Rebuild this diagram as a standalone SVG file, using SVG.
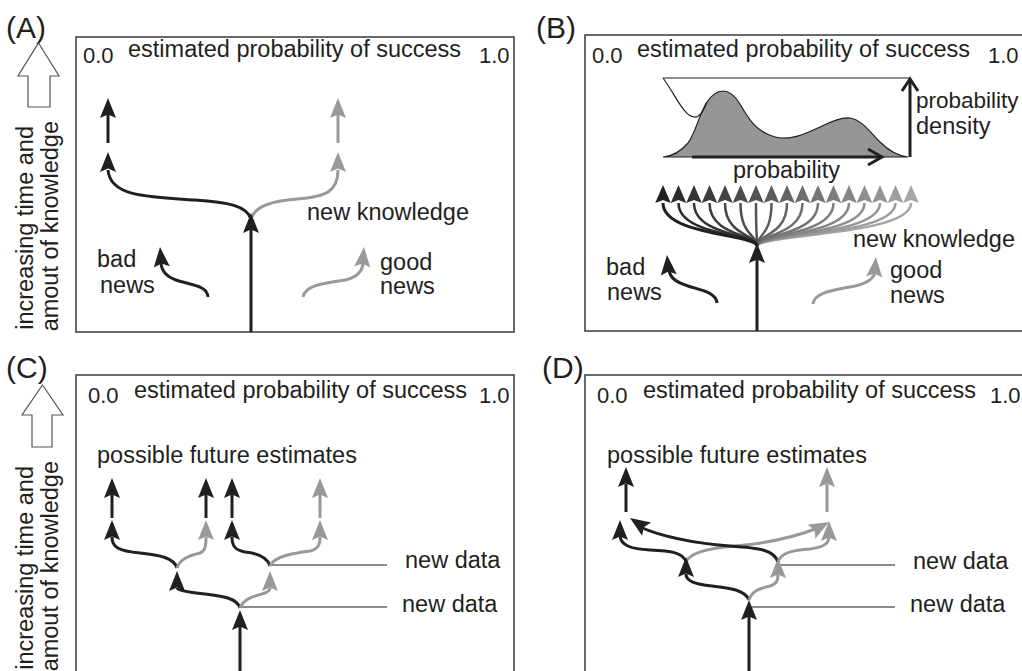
<svg xmlns="http://www.w3.org/2000/svg" xmlns:xlink="http://www.w3.org/1999/xlink" width="1022" height="671" viewBox="0 0 1022 671">
<style>
.t{font-family:"Liberation Sans",Arial,sans-serif;font-size:23.5px;fill:#231f20}
.n{font-family:"Liberation Sans",Arial,sans-serif;font-size:22px;fill:#231f20}
.p{font-family:"Liberation Sans",Arial,sans-serif;font-size:30px;fill:#231f20}
.box{fill:none;stroke:#3a3a3a;stroke-width:1.5}
.bk{fill:none;stroke:#231f20;stroke-width:3}
.gy{fill:none;stroke:#98999b;stroke-width:3}
.dl{fill:none;stroke:#8a8a8a;stroke-width:2}
.thin{fill:none;stroke:#231f20;stroke-width:1.2}
.hb{fill:#231f20}
.hg{fill:#98999b}
.big{fill:#fff;stroke:#555;stroke-width:1.2}
</style>
<defs>
<path id="ah" d="M0,0 L8,20 L0,16.5 L-8,20 Z"/>
<path id="ahs" d="M0,0 L7.8,18 L0,15 L-7.8,18 Z"/>
</defs>
<rect width="1022" height="671" fill="#fff"/>

<g id="panelA">
<text class="p" x="6" y="38">(A)</text>
<polygon class="big" points="38.5,43 59,76 50,76 50,107 28,107 28,76 18,76"/>
<text class="t" transform="translate(33,126) rotate(-90)" text-anchor="end">increasing time and</text>
<text class="t" transform="translate(58,121) rotate(-90)" text-anchor="end">amout of knowledge</text>
<rect class="box" x="76" y="37" width="438" height="295"/>
<text class="n" x="83" y="63">0.0</text>
<text class="t" x="128" y="57">estimated probability of success</text>
<text class="n" x="479" y="63">1.0</text>
<text class="t" x="307" y="220">new knowledge</text>
<text class="t" x="97" y="267">bad</text>
<text class="t" x="100" y="293">news</text>
<text class="t" x="380" y="270">good</text>
<text class="t" x="380" y="294">news</text>
</g>

<g id="panelB">
<text class="p" x="536" y="38">(B)</text>
<rect class="box" x="585" y="35" width="460" height="296"/>
<text class="n" x="592" y="63">0.0</text>
<text class="t" x="637" y="57">estimated probability of success</text>
<text class="n" x="988" y="63">1.0</text>
<path d="M663,157 C675,156 682,150 688,143 C696,132 700,112 707,102 C713,93 718,91 723,91 C730,91 735,96 740,104 C748,118 756,132 775,137 C790,141 805,134 820,127 C832,121 842,117 850,118 C862,120 870,132 880,142 C890,152 898,156 908,157 Z" fill="#959595" stroke="#231f20" stroke-width="1.2"/>
<path class="thin" d="M663,78 L910,78"/>
<path class="thin" d="M663,78 C676,96 684,116 694,117 C700,118 704,110 707,102"/>
<path class="bk" d="M692,157 L881,157"/>
<polyline class="bk" points="868,149 882,157 868,165"/>
<path class="bk" d="M910,157 L910,80"/>
<polyline class="bk" points="902,91 910,79 918,91"/>
<text class="t" x="733" y="178">probability</text>
<text class="t" x="916" y="108" style="font-size:22.5px">probability</text>
<text class="t" x="916" y="134">density</text>
<text class="t" x="853" y="247">new knowledge</text>
<text class="t" x="606" y="275">bad</text>
<text class="t" x="607" y="300">news</text>
<text class="t" x="890" y="278">good</text>
<text class="t" x="890" y="303">news</text>
</g>

<g id="panelC">
<text class="p" x="6" y="378">(C)</text>
<polygon class="big" points="42.5,385 63,415 52,415 52,447 32,447 32,415 22,415"/>
<text class="t" transform="translate(33,466) rotate(-90)" text-anchor="end">increasing time and</text>
<text class="t" transform="translate(58,461) rotate(-90)" text-anchor="end">amout of knowledge</text>
<rect class="box" x="76" y="375" width="438" height="320"/>
<text class="n" x="88" y="403">0.0</text>
<text class="t" x="134" y="398">estimated probability of success</text>
<text class="n" x="479" y="403">1.0</text>
<text class="t" x="97" y="463">possible future estimates</text>
<text class="t" x="405" y="568">new data</text>
<text class="t" x="402" y="612">new data</text>
</g>

<g id="panelD">
<text class="p" x="542" y="378">(D)</text>
<rect class="box" x="585" y="375" width="460" height="320"/>
<text class="n" x="597" y="403">0.0</text>
<text class="t" x="643" y="398">estimated probability of success</text>
<text class="n" x="990" y="403">1.0</text>
<text class="t" x="607" y="463">possible future estimates</text>
<text class="t" x="913" y="569">new data</text>
<text class="t" x="910" y="612">new data</text>
</g>

<g id="connectors">
<!-- A -->
<path class="bk" d="M251,332 L251,228"/>
<path class="bk" d="M251,219 C247,206 228,202 195,200 C145,197 110,196 108,170"/>
<path class="bk" d="M108,143 L108,112"/>
<path class="gy" d="M251,219 C255,206 272,201 297,199 C325,197 338,192 338,170"/>
<path class="gy" d="M338,143 L338,112"/>
<path class="bk" d="M208,297 C207,285 190,285 176,280 C165,276 161,270 161,262"/>
<path class="gy" d="M303,297 C305,285 325,283 345,280 C358,277 363,270 363,262"/>
<use href="#ah" class="hb" transform="translate(251,213)"/>
<use href="#ah" class="hb" transform="translate(108,152)"/>
<use href="#ah" class="hb" transform="translate(108,98)"/>
<use href="#ah" class="hg" transform="translate(338,152)"/>
<use href="#ah" class="hg" transform="translate(338,98)"/>
<use href="#ah" class="hb" transform="translate(160,247) rotate(-5)"/>
<use href="#ah" class="hg" transform="translate(364,247) rotate(5)"/>

<!-- B fan -->
<path class="bk" d="M757,331 L757,258"/>
<g fill="none" stroke-width="2.5">
<path stroke="#a6a6a6" d="M757,246 C757,234 911,236 911,203"/>
<path stroke="#9e9e9e" d="M757,246 C757,234 895.5,236 895.5,203"/>
<path stroke="#969696" d="M757,246 C757,234 880,236 880,203"/>
<path stroke="#8e8e8e" d="M757,246 C757,234 864.5,236 864.5,203"/>
<path stroke="#858585" d="M757,246 C757,234 849,236 849,203"/>
<path stroke="#7d7d7d" d="M757,246 C757,234 833.5,236 833.5,203"/>
<path stroke="#757575" d="M757,246 C757,234 818,236 818,203"/>
<path stroke="#6d6d6d" d="M757,246 C757,234 802.5,236 802.5,203"/>
<path stroke="#656565" d="M757,246 C757,234 787,236 787,203"/>
<path stroke="#5c5c5c" d="M757,246 C757,234 771.5,236 771.5,203"/>
<path stroke="#545454" d="M757,246 C757,234 756,236 756,203"/>
<path stroke="#4c4c4c" d="M757,246 C757,234 740.5,236 740.5,203"/>
<path stroke="#444444" d="M757,246 C757,234 725,236 725,203"/>
<path stroke="#3c3c3c" d="M757,246 C757,234 709.5,236 709.5,203"/>
<path stroke="#333333" d="M757,246 C757,234 694,236 694,203"/>
<path stroke="#2b2b2b" d="M757,246 C757,234 678.5,236 678.5,203"/>
<path stroke="#231f20" stroke-width="3" d="M757,246 C757,234 663,236 663,203"/>
</g>
<use href="#ahs" fill="#a6a6a6" transform="translate(911,185)"/>
<use href="#ahs" fill="#9e9e9e" transform="translate(895.5,185)"/>
<use href="#ahs" fill="#969696" transform="translate(880,185)"/>
<use href="#ahs" fill="#8e8e8e" transform="translate(864.5,185)"/>
<use href="#ahs" fill="#858585" transform="translate(849,185)"/>
<use href="#ahs" fill="#7d7d7d" transform="translate(833.5,185)"/>
<use href="#ahs" fill="#757575" transform="translate(818,185)"/>
<use href="#ahs" fill="#6d6d6d" transform="translate(802.5,185)"/>
<use href="#ahs" fill="#656565" transform="translate(787,185)"/>
<use href="#ahs" fill="#5c5c5c" transform="translate(771.5,185)"/>
<use href="#ahs" fill="#545454" transform="translate(756,185)"/>
<use href="#ahs" fill="#4c4c4c" transform="translate(740.5,185)"/>
<use href="#ahs" fill="#444444" transform="translate(725,185)"/>
<use href="#ahs" fill="#3c3c3c" transform="translate(709.5,185)"/>
<use href="#ahs" fill="#333333" transform="translate(694,185)"/>
<use href="#ahs" fill="#2b2b2b" transform="translate(678.5,185)"/>
<use href="#ahs" fill="#231f20" transform="translate(663,185)"/>
<use href="#ah" class="hb" transform="translate(757,243)"/>
<path class="bk" d="M717,303 C716,292 700,290 688,286 C676,282 670,278 669,270"/>
<path class="gy" d="M813,304 C814,292 835,290 855,286 C868,283 874,278 875,272"/>
<use href="#ah" class="hb" transform="translate(667,255) rotate(-5)"/>
<use href="#ah" class="hg" transform="translate(876,257) rotate(5)"/>

<!-- C -->
<path class="dl" d="M240,607 L387,607"/>
<path class="dl" d="M270,565 L387,565"/>
<path class="bk" d="M240,671 L240,624"/>
<path class="bk" d="M240,608 C237,598 222,596 205,594 C185,592 177,590 177,588"/>
<path class="gy" d="M240,608 C244,598 255,596 262,594 C269,592 270,590 270,588"/>
<path class="bk" d="M177,568 C174,558 160,555 140,553 C118,551 112,547 112,537"/>
<path class="gy" d="M177,568 C180,558 192,555 200,553 C205,551 206,547 206,537"/>
<path class="bk" d="M270,566 C267,556 255,553 245,552 C235,550 232,546 232,537"/>
<path class="gy" d="M270,566 C274,556 295,553 310,551 C318,549 320,545 320,537"/>
<path class="bk" d="M112,518 L112,494"/>
<path class="bk" d="M206,518 L206,494"/>
<path class="bk" d="M232,518 L232,494"/>
<path class="gy" d="M320,518 L320,494"/>
<use href="#ah" class="hb" transform="translate(240,610)"/>
<use href="#ah" class="hb" transform="translate(177,571)"/>
<use href="#ah" class="hg" transform="translate(270,571)"/>
<use href="#ah" class="hb" transform="translate(112,520)"/>
<use href="#ah" class="hg" transform="translate(206,520)"/>
<use href="#ah" class="hb" transform="translate(232,520)"/>
<use href="#ah" class="hg" transform="translate(320,520)"/>
<use href="#ah" class="hb" transform="translate(112,478)"/>
<use href="#ah" class="hb" transform="translate(206,478)"/>
<use href="#ah" class="hb" transform="translate(232,478)"/>
<use href="#ah" class="hg" transform="translate(320,478)"/>

<!-- D -->
<path class="dl" d="M749,607 L895,607"/>
<path class="dl" d="M780,565 L895,565"/>
<path class="bk" d="M749,671 L749,614"/>
<path class="bk" d="M749,600 C745,590 730,588 712,586 C694,584 686,581 686,574"/>
<path class="gy" d="M749,600 C752,590 762,588 770,586 C777,584 778,580 778,574"/>
<path class="bk" d="M686,562 C683,552 670,551 650,550 C630,549 621,545 620,536"/>
<path class="gy" d="M686,562 C690,552 710,548 735,546 C770,543 800,535 818,528"/>
<path class="gy" d="M778,562 C781,552 795,550 810,549 C825,547 829,543 829,536"/>
<path class="bk" d="M778,562 C774,550 760,548 730,546 C690,543 658,535 640,527"/>
<path class="bk" d="M626,512 L626,484"/>
<path class="gy" d="M827,512 L827,484"/>
<use href="#ah" class="hb" transform="translate(749,600)"/>
<use href="#ah" class="hb" transform="translate(686,557)"/>
<use href="#ah" class="hg" transform="translate(778,558)"/>
<use href="#ah" class="hb" transform="translate(620,520)"/>
<use href="#ah" class="hg" transform="translate(829,521)"/>
<use href="#ah" class="hg" transform="translate(829,522) rotate(61)"/>
<use href="#ah" class="hb" transform="translate(630,518) rotate(-56)"/>
<use href="#ah" class="hb" transform="translate(626,467)"/>
<use href="#ah" class="hg" transform="translate(827,467)"/>
</g>
</svg>
